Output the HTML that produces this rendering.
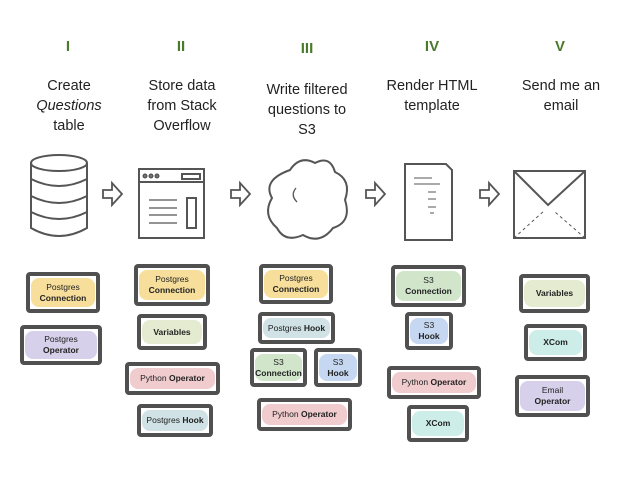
<!DOCTYPE html>
<html><head><meta charset="utf-8"><style>
body{margin:0;width:638px;height:479px;background:#fff;position:relative;overflow:hidden;font-family:"Liberation Sans",sans-serif;}
.n{position:absolute;top:38px;width:60px;margin-left:-30px;text-align:center;color:#4a7a2c;font-weight:bold;font-size:15px;}
.t{position:absolute;width:120px;margin-left:-60px;text-align:center;color:#222;font-size:14.5px;line-height:20px;}
.b{position:absolute;box-sizing:border-box;border:4px solid #505050;border-radius:4px;display:flex;align-items:center;justify-content:center;text-align:center;font-size:8.5px;line-height:11px;color:#222;}
.b span.f{position:absolute;left:1px;right:1px;top:2px;bottom:2px;border-radius:8px;z-index:0;opacity:.85}
.b div{position:relative;z-index:1}
b{font-weight:bold}
.y{background:#f6d98a}.p{background:#cfc8e6}.g{background:#dfe8c8}.r{background:#efc3c6}.c{background:#c8dde0}.gr{background:#c9e0c2}.bl{background:#bcd0ee}.tq{background:#c4ebe4}
</style></head><body>
<div class="n" style="left:68px">I</div><div class="n" style="left:181px">II</div><div class="n" style="left:307px;top:40px">III</div><div class="n" style="left:432px">IV</div><div class="n" style="left:560px">V</div>
<div class="t" style="left:69px;top:76px">Create<br><i>Questions</i><br>table</div>
<div class="t" style="left:182px;top:76px">Store data<br>from Stack<br>Overflow</div>
<div class="t" style="left:307px;top:80px">Write filtered<br>questions to<br>S3</div>
<div class="t" style="left:432px;top:76px">Render HTML<br>template</div>
<div class="t" style="left:561px;top:76px">Send me an<br>email</div>

<svg width="638" height="479" style="position:absolute;left:0;top:0" fill="none" stroke="#555" stroke-width="2">
<ellipse cx="59" cy="163" rx="28" ry="8"/>
<path d="M31 163 V228 Q59 244 87 228 V163"/>
<path d="M31 179 Q59 193 87 179 M31 196 Q59 210 87 196 M31 212 Q59 226 87 212"/>
<rect x="139" y="169" width="65" height="69"/>
<line x1="139" y1="182" x2="204" y2="182"/>
<circle cx="145" cy="176" r="1.5"/><circle cx="151" cy="176" r="1.5"/><circle cx="157" cy="176" r="1.5"/>
<rect x="182" y="174" width="18" height="5"/>
<rect x="187" y="198" width="9" height="30"/>
<path d="M149 200 H177 M149 208 H177 M149 215 H177 M149 223 H177" stroke-width="1.3"/>
<path d="M290 170 Q300 155 315 163 Q330 155 335 172 Q352 180 345 200 Q352 222 333 228 Q320 245 303 235 Q285 243 277 228 Q262 215 272 198 Q262 180 290 170 Z"/>
<path d="M296 188 Q290 195 297 202" stroke-width="1.3"/>
<path d="M405 164 H446 L452 170 V240 H405 Z"/>
<path d="M414 178 H432 M414 184 H440 M428 192 H436 M428 199 H436 M428 207 H436 M430 213 H434" stroke-width="1"/>
<rect x="514" y="171" width="71" height="67"/>
<path d="M514 171 L548 205 L585 171" />
<path d="M514 238 L545 210 M585 238 L555 212" stroke-width="1" stroke-dasharray="3 3"/>
<g stroke-width="1.8">
<path d="M103 190 H112 V183 L122 194 L112 205 V198 H103 Z"/>
<path d="M231 190 H240 V183 L250 194 L240 205 V198 H231 Z"/>
<path d="M366 190 H375 V183 L385 194 L375 205 V198 H366 Z"/>
<path d="M480 190 H489 V183 L499 194 L489 205 V198 H480 Z"/>
</g>
</svg>

<div class="b" style="left:26px;top:272px;width:74px;height:41px"><span class="f y"></span><div>Postgres<br><b>Connection</b></div></div>
<div class="b" style="left:20px;top:325px;width:82px;height:40px"><span class="f p"></span><div>Postgres<br><b>Operator</b></div></div>

<div class="b" style="left:134px;top:264px;width:76px;height:42px"><span class="f y"></span><div>Postgres<br><b>Connection</b></div></div>
<div class="b" style="left:137px;top:314px;width:70px;height:36px"><span class="f g"></span><div><b>Variables</b></div></div>
<div class="b" style="left:125px;top:362px;width:95px;height:33px"><span class="f r"></span><div>Python <b>Operator</b></div></div>
<div class="b" style="left:137px;top:404px;width:76px;height:33px"><span class="f c"></span><div>Postgres <b>Hook</b></div></div>

<div class="b" style="left:259px;top:264px;width:74px;height:40px"><span class="f y"></span><div>Postgres<br><b>Connection</b></div></div>
<div class="b" style="left:258px;top:312px;width:77px;height:32px"><span class="f c"></span><div>Postgres <b>Hook</b></div></div>
<div class="b" style="left:250px;top:348px;width:57px;height:39px"><span class="f gr"></span><div>S3<br><b>Connection</b></div></div>
<div class="b" style="left:314px;top:348px;width:48px;height:39px"><span class="f bl"></span><div>S3<br><b>Hook</b></div></div>
<div class="b" style="left:257px;top:398px;width:95px;height:33px"><span class="f r"></span><div>Python <b>Operator</b></div></div>

<div class="b" style="left:391px;top:265px;width:75px;height:42px"><span class="f gr"></span><div>S3<br><b>Connection</b></div></div>
<div class="b" style="left:405px;top:312px;width:48px;height:38px"><span class="f bl"></span><div>S3<br><b>Hook</b></div></div>
<div class="b" style="left:387px;top:366px;width:94px;height:33px"><span class="f r"></span><div>Python <b>Operator</b></div></div>
<div class="b" style="left:407px;top:405px;width:62px;height:37px"><span class="f tq"></span><div><b>XCom</b></div></div>

<div class="b" style="left:519px;top:274px;width:71px;height:39px"><span class="f g"></span><div><b>Variables</b></div></div>
<div class="b" style="left:524px;top:324px;width:63px;height:37px"><span class="f tq"></span><div><b>XCom</b></div></div>
<div class="b" style="left:515px;top:375px;width:75px;height:42px"><span class="f p"></span><div>Email<br><b>Operator</b></div></div>
</body></html>
